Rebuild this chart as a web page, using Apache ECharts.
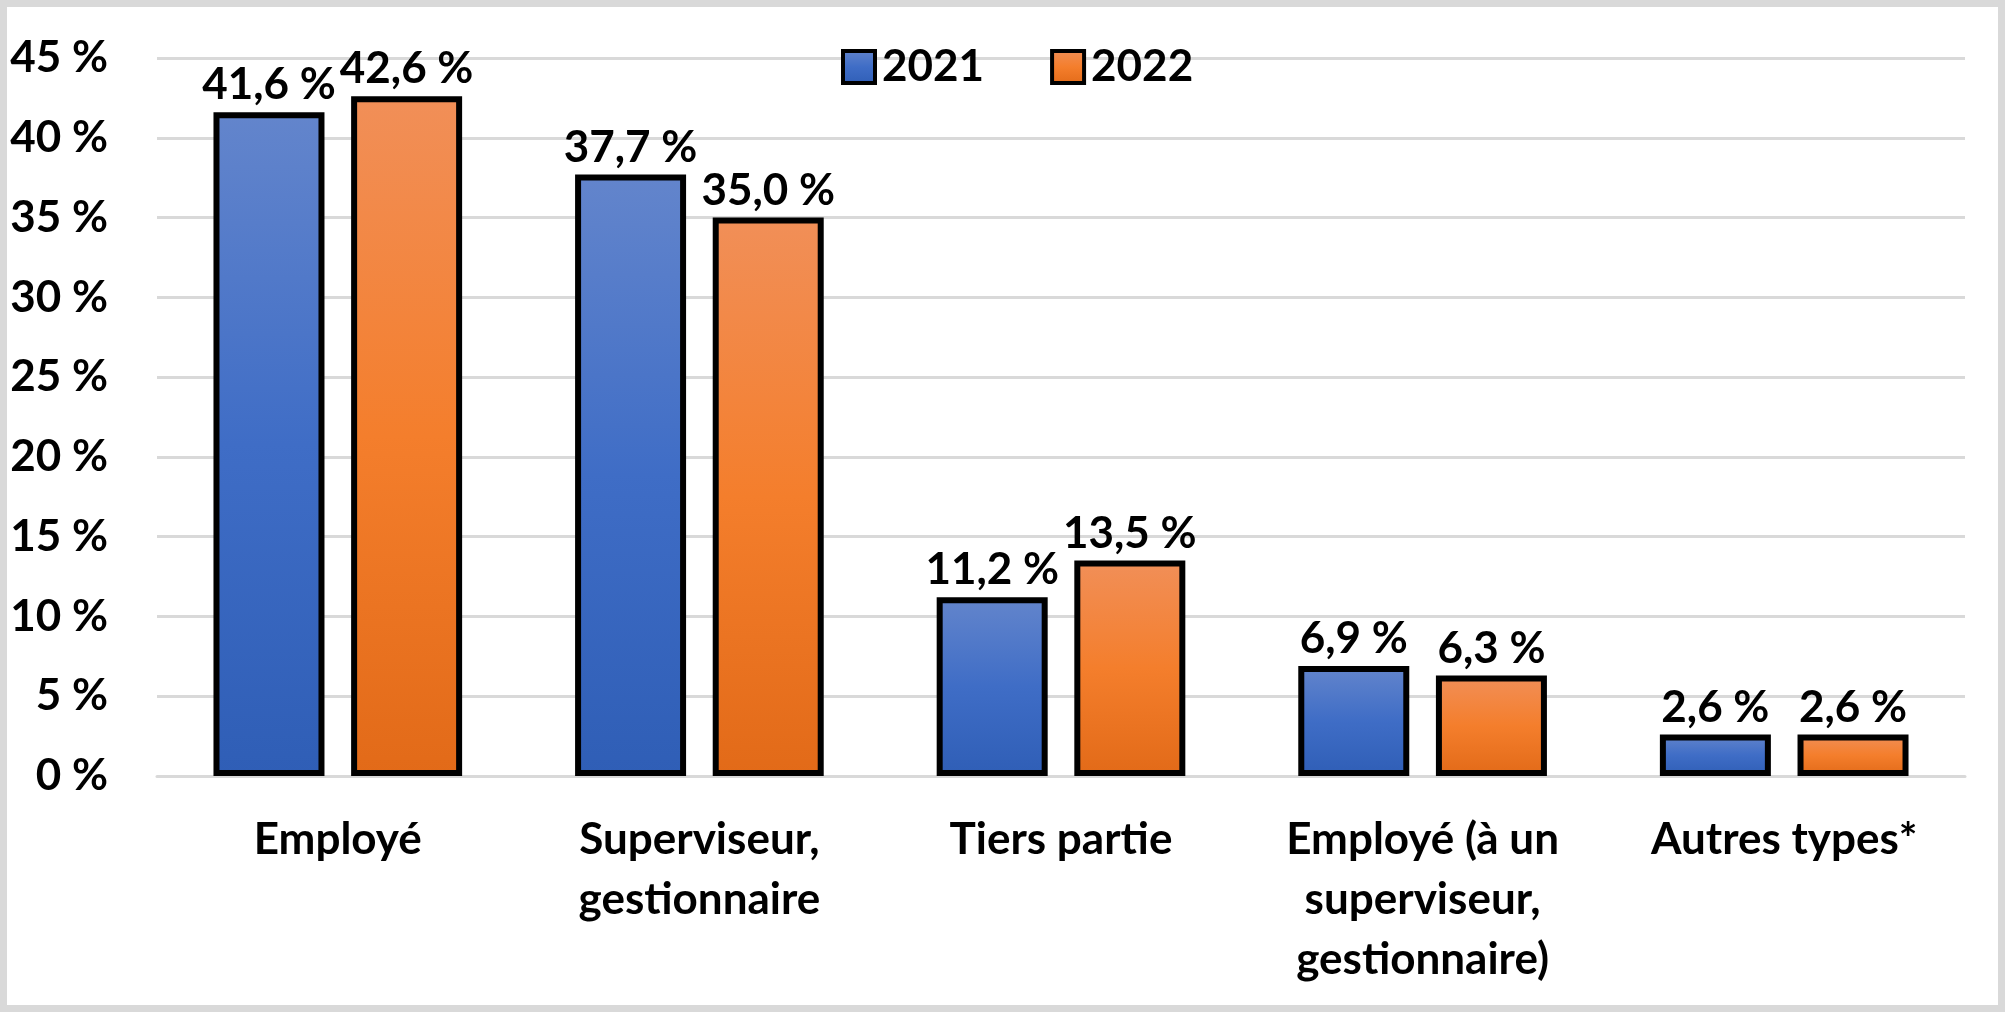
<!DOCTYPE html>
<html>
<head>
<meta charset="utf-8">
<script src="https://cdn.jsdelivr.net/npm/echarts@6/dist/echarts.min.js"></script>
<style>
html,body{margin:0;padding:0;background:#fff;}
#c{width:2005px;height:1012px;}
</style>
</head>
<body>
<div id="c"></div>
<script>
const categories = ['Employé', 'Superviseur,\ngestionnaire', 'Tiers partie', 'Employé (à un\nsuperviseur,\ngestionnaire)', 'Autres types*'];
const seriesNames = ['2021', '2022'];
const values2021 = [41.6, 37.7, 11.2, 6.9, 2.6];
const values2022 = [42.6, 35.0, 13.5, 6.3, 2.6];
const yTicks = { min: 0, max: 45, interval: 5 };

const FONT = 'Lato';
const blueGrad = new echarts.graphic.LinearGradient(0, 0, 0, 1, [
  { offset: 0, color: '#6385cc' },
  { offset: 0.5, color: '#3f6dc6' },
  { offset: 1, color: '#2f5eb6' }
]);
const orangeGrad = new echarts.graphic.LinearGradient(0, 0, 0, 1, [
  { offset: 0, color: '#f18f58' },
  { offset: 0.5, color: '#f47e2c' },
  { offset: 1, color: '#e26a18' }
]);

function fmt(v) { return v.toFixed(1).replace('.', ',') + ' %'; }

const labelStyle = {
  show: true, position: 'top', distance: 5,
  fontFamily: FONT, fontWeight: 'bold', fontSize: 44, color: '#000',
  formatter: p => fmt(p.value)
};

const chart = echarts.init(document.getElementById('c'));
chart.setOption({
  animation: false,
  backgroundColor: '#fff',
  graphic: [{
    type: 'rect', z: 100,
    shape: { x: 3.5, y: 3.5, width: 1998, height: 1005 },
    style: { fill: 'none', stroke: '#d9d9d9', lineWidth: 7 }
  }],
  legend: {
    data: seriesNames,
    left: 836, top: 40,
    itemWidth: 32, itemHeight: 32, itemGap: 66,
    icon: 'rect',
    itemStyle: { borderColor: '#000', borderWidth: 4 },
    textStyle: { fontFamily: FONT, fontWeight: 'bold', fontSize: 44, color: '#000', padding: [0, 0, 0, 2] }
  },
  grid: { left: 157, right: 40, top: 58, bottom: 236, containLabel: false },
  xAxis: {
    type: 'category', data: categories,
    axisLine: { show: true, lineStyle: { color: '#d9d9d9', width: 3 } },
    axisTick: { show: false },
    axisLabel: {
      fontFamily: FONT, fontWeight: 'bold', fontSize: 44, color: '#000',
      lineHeight: 60, margin: 34, interval: 0
    }
  },
  yAxis: {
    type: 'value', min: yTicks.min, max: yTicks.max, interval: yTicks.interval,
    axisLine: { show: false }, axisTick: { show: false },
    splitLine: { lineStyle: { color: '#d9d9d9', width: 3 } },
    axisLabel: {
      fontFamily: FONT, fontWeight: 'bold', fontSize: 44, color: '#000',
      margin: 49, formatter: '{value} %'
    }
  },
  series: [
    {
      name: seriesNames[0], type: 'bar', data: values2021,
      barWidth: 111, barGap: '24%',
      itemStyle: { color: blueGrad, borderColor: '#000', borderWidth: 6 },
      label: labelStyle
    },
    {
      name: seriesNames[1], type: 'bar', data: values2022,
      barWidth: 111, barGap: '24%',
      itemStyle: { color: orangeGrad, borderColor: '#000', borderWidth: 6 },
      label: labelStyle
    }
  ]
});
</script>
</body>
</html>
